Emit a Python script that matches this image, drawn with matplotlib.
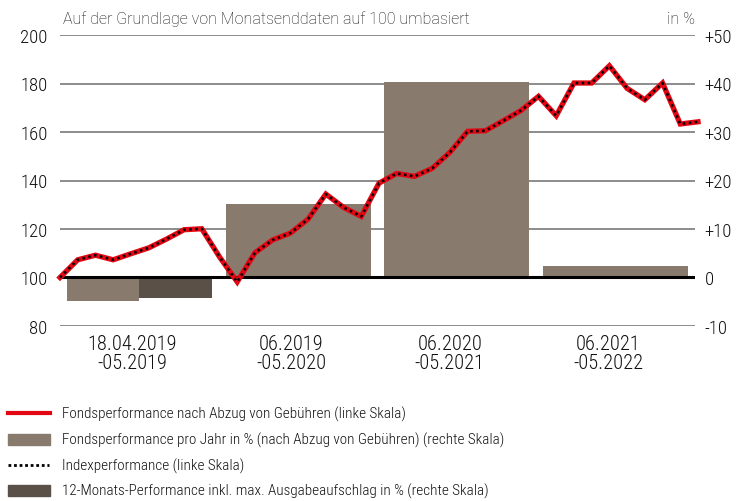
import matplotlib
matplotlib.use("Agg")
import matplotlib.pyplot as plt
from matplotlib.lines import Line2D
from matplotlib.patches import Rectangle

plt.rcParams['font.family'] = ['Roboto Condensed', 'DejaVu Sans']
plt.rcParams['font.weight'] = 'light'

# monthly values, rebased to 100 (left scale)
fund_line = [100.0, 107.3, 109.2, 107.3, 109.8, 112.2, 115.8, 119.7, 120.1, 108.5,
             98.2, 110.2, 115.5, 118.3, 124.1, 134.4, 128.9, 125.2, 138.9, 142.9,
             141.7, 145.0, 151.6, 160.3, 160.5, 164.6, 168.8, 174.7, 166.7, 180.2,
             180.2, 187.3, 178.0, 173.3, 180.2, 163.3, 164.2]
index_line = [100.0, 107.3, 109.2, 107.3, 109.8, 112.2, 115.8, 119.7, 120.1, 108.5,
              98.2, 110.2, 115.5, 118.3, 124.1, 134.4, 128.9, 125.2, 138.9, 142.9,
              141.7, 145.0, 151.6, 160.3, 160.5, 164.6, 168.8, 174.7, 166.7, 180.2,
              180.2, 187.3, 178.0, 173.3, 180.2, 163.3, 164.2]

# yearly bars (right scale, %)
periods = ["18.04.2019\n-05.2019", "06.2019\n-05.2020", "06.2020\n-05.2021", "06.2021\n-05.2022"]
fund_year = [-4.8, 15.1, 40.3, 2.3]
perf_12m = [-4.3, None, None, None]

left_ticks = [80, 100, 120, 140, 160, 180, 200]
right_ticks = [-10, 0, 10, 20, 30, 40, 50]
right_labels = ["-10", "0", "+10", "+20", "+30", "+40", "+50"]

c_red = "#e30613"
c_light = "#887b6e"
c_dark = "#5a5048"
c_grid = "#6e6e6e"
c_text = "#111111"

fig = plt.figure(figsize=(7.44, 5.02), dpi=100)
ax_bar = fig.add_axes([60 / 744, 1 - 327 / 502, 635 / 744, 291 / 502])
ax = ax_bar.twinx()
ax.set_zorder(ax_bar.get_zorder() + 1)
ax.patch.set_visible(False)

n = len(fund_line)
# line runs a touch past the right edge of the grid
xmax = (n - 1) * 635 / 638
slot = xmax / len(periods)
bw = slot * 0.913

ax_bar.set_xlim(0, xmax)
ax_bar.set_ylim(-10, 50)
ax.set_ylim(80, 200)

for y in right_ticks:
    ax_bar.axhline(y, color=c_grid, lw=1.1, zorder=0)

for i, v in enumerate(fund_year):
    xc = slot * (i + 0.5)
    if perf_12m[i] is not None:
        ax_bar.bar(xc - bw / 4, v, width=bw / 2, color=c_light, zorder=2)
        ax_bar.bar(xc + bw / 4, perf_12m[i], width=bw / 2, color=c_dark, zorder=2)
    else:
        ax_bar.bar(xc, v, width=bw, color=c_light, zorder=2)

ax.axhline(100, color="black", lw=2.2, zorder=3)
xs = list(range(n))
ax.plot(xs, fund_line, color=c_red, lw=3.8, solid_joinstyle="miter", zorder=4, clip_on=False)
ax.plot(xs, index_line, color="black", lw=1.8, ls=(0, (1, 1.4)), zorder=5, clip_on=False)

# axes: left scale on the line axes, right scale on the bar axes
ax.yaxis.tick_left()
ax.set_yticks(left_ticks)
ax_bar.yaxis.tick_right()
ax_bar.set_yticks(right_ticks)
ax_bar.set_yticklabels(right_labels)
ax.tick_params(axis="y", length=0, pad=9, labelsize=13.5, colors=c_text)
ax_bar.tick_params(axis="y", length=0, pad=7, labelsize=13.5, colors=c_text)
ax_bar.set_xticks([slot * (i + 0.5) - 0.4 for i in range(len(periods))])
ax_bar.set_xticklabels(periods, fontsize=14.7, linespacing=1.0)
ax_bar.tick_params(axis="x", length=0, pad=6, colors=c_text)
for a in (ax, ax_bar):
    for s in a.spines.values():
        s.set_visible(False)

fig.text(63 / 744, 1 - 19 / 502, "Auf der Grundlage von Monatsenddaten auf 100 umbasiert",
         family=["Roboto", "DejaVu Sans"], fontsize=11.5, va="center", ha="left", color=c_text)
fig.text(695 / 744, 1 - 19 / 502, "in %", family=["Roboto", "DejaVu Sans"],
         fontsize=11.5, va="center", ha="right", color=c_text)

# legend
leg_items = [
    ("line", "Fondsperformance nach Abzug von Gebühren (linke Skala)"),
    ("light", "Fondsperformance pro Jahr in % (nach Abzug von Gebühren) (rechte Skala)"),
    ("dots", "Indexperformance (linke Skala)"),
    ("dark", "12-Monats-Performance inkl. max. Ausgabeaufschlag in % (rechte Skala)"),
]
ys = [414, 440, 466, 491]
for (kind, label), yp in zip(leg_items, ys):
    yf = 1 - yp / 502
    if kind == "line":
        fig.add_artist(Line2D([8 / 744, 50 / 744], [yf, yf], color=c_red, lw=3))
    elif kind == "dots":
        fig.add_artist(Line2D([8 / 744, 49 / 744], [yf, yf], color="black", lw=2, ls=(0, (1, 1))))
    else:
        col = c_light if kind == "light" else c_dark
        fig.add_artist(Rectangle((8 / 744, yf - 5.5 / 502), 42 / 744, 11 / 502, color=col))
    fig.text(62 / 744, yf, label, fontsize=10.9, va="center", ha="left", color=c_text)

fig.savefig("out.png", dpi=100)
